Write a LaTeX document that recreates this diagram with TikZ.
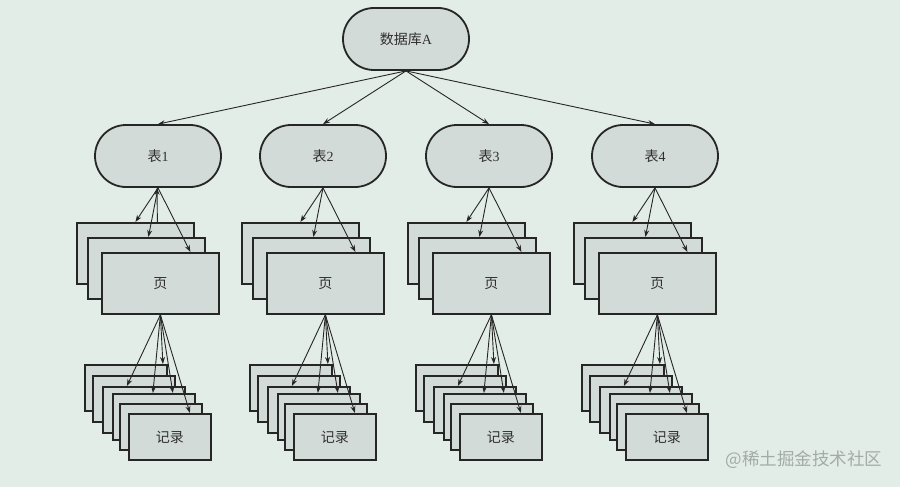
\documentclass[tikz,border=0pt]{standalone}
\usepackage{fontspec}
\setmainfont{Liberation Serif}
\newfontfamily\cjk{Noto Sans CJK SC}
\usetikzlibrary{arrows.meta,shapes.misc}
\definecolor{bg}{HTML}{E3EDE8}
\definecolor{boxfill}{HTML}{D3DBD8}
\definecolor{edge}{HTML}{262626}
\definecolor{txt}{HTML}{303030}
\definecolor{wm}{HTML}{A3ABA7}
\tikzset{
  base/.style={draw=edge, fill=boxfill, line width=1.8pt, inner sep=0pt, text=txt, font=\fontsize{14}{16}\selectfont},
  tbl/.style={base, rounded rectangle, minimum width=126pt, minimum height=62pt},
  pagebox/.style={base, rectangle, minimum width=117pt, minimum height=61pt, anchor=north west},
  recbox/.style={base, rectangle, minimum width=82pt, minimum height=46pt, anchor=north west},
  arr/.style={draw=edge, line width=0.9pt, -{Stealth[length=7pt,width=5pt]}},
}
\begin{document}
\begin{tikzpicture}[x=1pt,y=-1pt]
\fill[bg] (0,0) rectangle (900,487);
\useasboundingbox (0,0) rectangle (900,487);
\node[tbl] (db) at (406,39) {{\cjk 数据库}A};
\foreach \i/\x in {1/158,2/323,3/489,4/655}{
  \node[tbl] (t\i) at (\x,156) {{\cjk 表}\i};
  \node[pagebox] (p\i-1) at (\x-82,222) {};
  \node[pagebox] (p\i-2) at (\x-71,237) {};
  \node[pagebox] (p\i-3) at (\x-57,252) {\cjk 页};
  \foreach \k/\dx/\dy in {0/0/0,1/8/11,2/18/22,3/28/29,4/35/39}{
    \node[recbox] (r\i-\k) at (\x-74+\dx,364+\dy) {};
  }
  \node[recbox] (r\i-5) at (\x-30,413) {\cjk 记录};
  \draw[arr] (db.south) -- (t\i.north);
  \draw[arr] (t\i.south) -- (p\i-1.north);
  \draw[arr] (t\i.south) -- ([xshift=2pt]p\i-2.north);
  \draw[arr] (t\i.south) -- ([xshift=30pt]p\i-3.north);
  \draw[arr] (p\i-3.south) -- ([xshift=-17pt]r\i-2.north);
  \draw[arr] (p\i-3.south) -- ([xshift=-1pt]r\i-3.north);
  \draw[arr] (p\i-3.south) -- ([xshift=37pt]r\i-0.north);
  \draw[arr] (p\i-3.south) -- ([xshift=19pt]r\i-3.north);
  \draw[arr] (p\i-3.south) -- ([xshift=20pt]r\i-5.north);
}
\draw[arr] ([xshift=22pt]p1-1.north) -- ([xshift=-1pt]t1.south);
\node[text=wm, font=\cjk\fontsize{17.5}{20}\selectfont] (wmark) at (804,460) {@稀土掘金技术社区};
\end{tikzpicture}
\end{document}
